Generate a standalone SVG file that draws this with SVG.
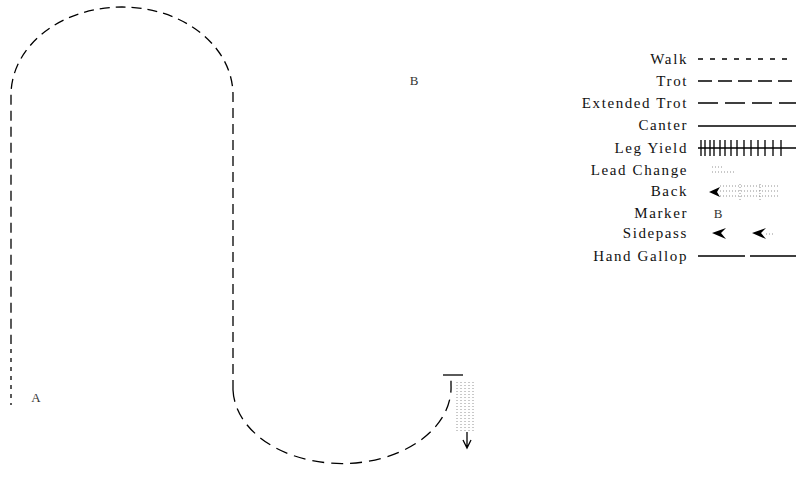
<svg xmlns="http://www.w3.org/2000/svg" width="796" height="496" viewBox="0 0 796 496">
<style>
.lbl{font-family:"Liberation Serif","DejaVu Serif",serif;font-size:15px;letter-spacing:1.6px;fill:#111;text-anchor:end}
.mk{font-family:"Liberation Serif","DejaVu Serif",serif;font-size:13px;fill:#333;text-anchor:middle}
.ln{fill:none;stroke:#000;stroke-width:1.3}
.dot{fill:none;stroke:#777;stroke-width:0.8;stroke-dasharray:1 2}
</style>
<rect width="796" height="496" fill="#fff"/>
<g id="connectors">
<path class="ln" stroke-dasharray="10 6" d="M233 390 V95 A111 88 0 0 0 11 95 V340"/>
<path class="ln" stroke-dasharray="4 5" d="M11 340 V405"/>
<path class="ln" stroke-dasharray="12 7" d="M233 390 A109 76 0 0 0 451 385 V378"/>
<path class="ln" d="M443 375 H463"/>
<path class="dot" d="M457 382 V432 M461 382 V432 M465 382 V432 M469 382 V432 M473 382 V432"/>
<path class="ln" d="M467 432 V448 M463 440 L467 448 L471 440"/>
</g>
<g id="marker-A"><text class="mk" x="36" y="402">A</text></g>
<g id="marker-B"><text class="mk" x="414" y="85">B</text></g>
<g id="legend">
<text class="lbl" x="688" y="64">Walk</text>
<path class="ln" stroke-dasharray="5 7" d="M698 59 H792"/>
<text class="lbl" x="688" y="86">Trot</text>
<path class="ln" stroke-dasharray="14 6" d="M698 81 H796"/>
<text class="lbl" x="688" y="108">Extended Trot</text>
<path class="ln" stroke-dasharray="20 7" d="M698 103 H796"/>
<text class="lbl" x="688" y="130">Canter</text>
<path class="ln" d="M698 126 H796"/>
<text class="lbl" x="688" y="153">Leg Yield</text>
<path class="ln" d="M698 148 H796 M701 140 V156 M705 140 V156 M710 140 V156 M714 140 V156 M720 140 V156 M725 140 V156 M731 140 V156 M737 140 V156 M744 140 V156 M751 140 V156 M758 140 V156 M765 140 V156 M773 140 V156 M781 140 V156"/>
<text class="lbl" x="688" y="175">Lead Change</text>
<path class="dot" d="M712 167 H722 M712 172 H735"/>
<text class="lbl" x="688" y="196">Back</text>
<path d="M709 192 L720 187 L717 192 L720 197 Z" fill="#000"/>
<path class="dot" d="M720 186 H780 M720 191 H780 M720 196 H780 M740 184 V200 M760 184 V200"/>
<text class="lbl" x="688" y="218">Marker</text>
<text class="mk" x="718" y="218" font-size="10">B</text>
<text class="lbl" x="688" y="238">Sidepass</text>
<path d="M712 233 L726 228 L721 233 L726 239 Z" fill="#000"/>
<path d="M752 233 L766 228 L761 233 L766 239 Z" fill="#000"/>
<path class="dot" d="M766 234 H775"/>
<text class="lbl" x="688" y="261">Hand Gallop</text>
<path class="ln" d="M698 256 H745 M750 256 H796"/>
</g>
</svg>
